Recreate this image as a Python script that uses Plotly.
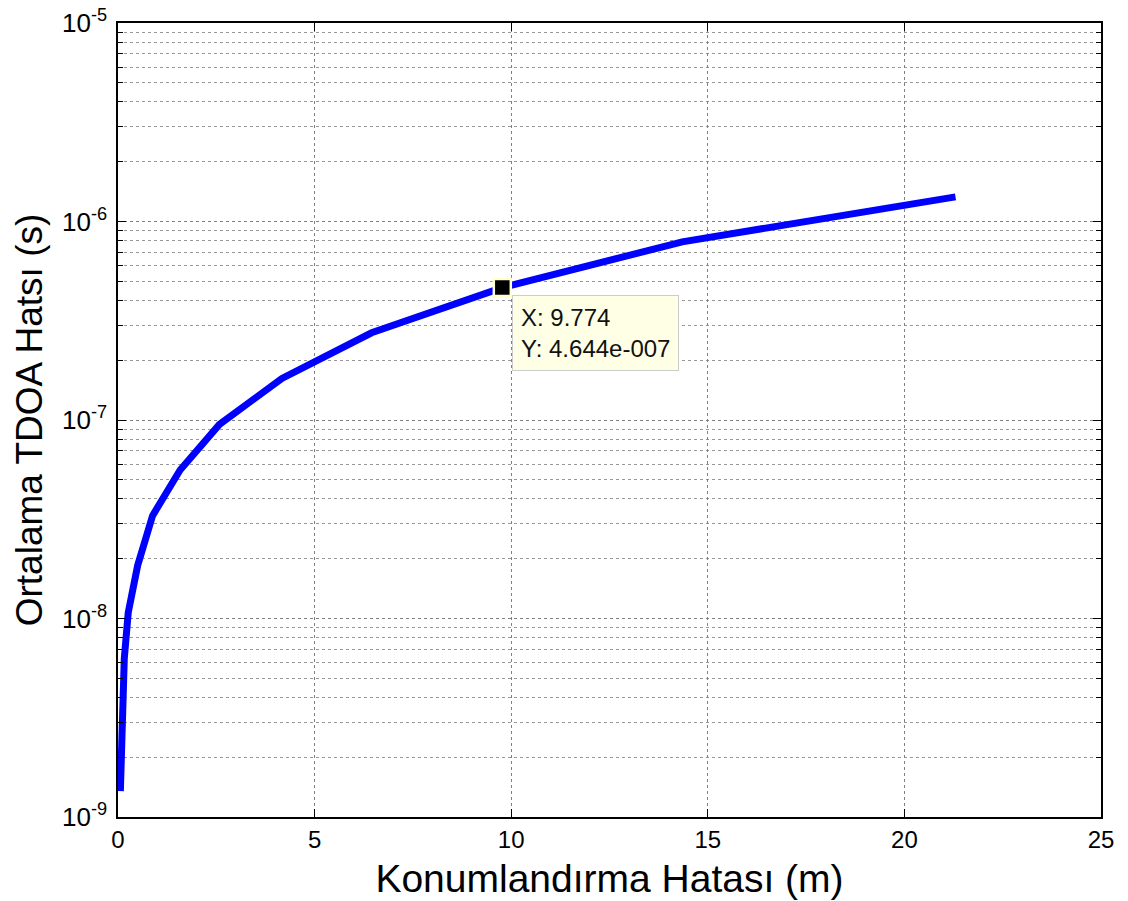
import plotly.graph_objects as go

# Data
pos_error_m = [0.06, 0.08, 0.11, 0.16, 0.26, 0.50, 0.88, 1.58, 2.58, 4.17, 6.45, 9.774, 14.35, 21.3]
tdoa_error_s = [1.35e-9, 2.3e-9, 3.8e-9, 6.3e-9, 1.07e-8, 1.85e-8, 3.3e-8, 5.6e-8, 9.5e-8,
                1.62e-7, 2.75e-7, 4.644e-7, 7.9e-7, 1.33e-6]

tip_x = [9.774]
tip_y = [4.644e-7]
tip_text = "X: 9.774<br>Y: 4.644e-007"

x_ticks = [0, 5, 10, 15, 20, 25]
y_ticks = [1e-9, 1e-8, 1e-7, 1e-6, 1e-5]
y_ticktext = ["10<sup>-9</sup>", "10<sup>-8</sup>", "10<sup>-7</sup>", "10<sup>-6</sup>", "10<sup>-5</sup>"]

FONT = "Liberation Sans, Arial, sans-serif"

fig = go.Figure()
fig.add_trace(go.Scatter(
    x=pos_error_m, y=tdoa_error_s, mode="lines",
    line=dict(color="#0000FF", width=7), hoverinfo="skip", showlegend=False))
fig.add_trace(go.Scatter(
    x=tip_x, y=tip_y, mode="markers",
    marker=dict(symbol="square", size=17, color="black",
                line=dict(color="#FFFFD0", width=2.5)),
    hoverinfo="skip", showlegend=False))

fig.add_annotation(
    x=9.774 + 0.25, y=-6.37, xref="x", yref="y", text=tip_text,
    showarrow=False, align="left", xanchor="left", yanchor="top",
    font=dict(family=FONT, size=24, color="#111"),
    bgcolor="#FFFFE6", bordercolor="#CCCCCC", borderwidth=1, borderpad=8)

fig.update_layout(
    width=1128, height=901,
    margin=dict(l=118, r=27, t=23, b=84, autoexpand=False),
    paper_bgcolor="white", plot_bgcolor="white",
    font=dict(family=FONT, color="black"),
)

fig.update_xaxes(
    range=[0, 25], tickvals=x_ticks, ticks="inside", ticklen=8, tickwidth=1.2,
    tickcolor="black", showline=True, linecolor="black", linewidth=1.5,
    mirror="allticks", showgrid=True, gridcolor="#808080", griddash="dot", gridwidth=1,
    tickfont=dict(size=24), zeroline=False, automargin=False, ticklabelstandoff=0,
    ticklabeloverflow="allow",
    title=dict(text="Konumlandırma Hatası (m)", font=dict(size=39), standoff=13),
)
fig.update_yaxes(
    type="log", range=[-9, -5], tickvals=y_ticks, ticktext=y_ticktext,
    ticks="inside", ticklen=8, tickwidth=1.2, tickcolor="black",
    showline=True, linecolor="black", linewidth=1.5, mirror="allticks",
    showgrid=True, gridcolor="#808080", griddash="dot", gridwidth=1,
    tickfont=dict(size=26), zeroline=False, automargin=False, ticklabelstandoff=4,
    ticklabeloverflow="allow",
    minor=dict(dtick="D1", ticks="inside", ticklen=5, tickcolor="black",
               showgrid=True, gridcolor="#999999", griddash="dot", gridwidth=1),
    title=dict(text="Ortalama TDOA Hatsı (s)", font=dict(size=37), standoff=8),
)

fig.write_html("out.html", config={"displayModeBar": False},
               post_script="document.body.style.margin='0';")
